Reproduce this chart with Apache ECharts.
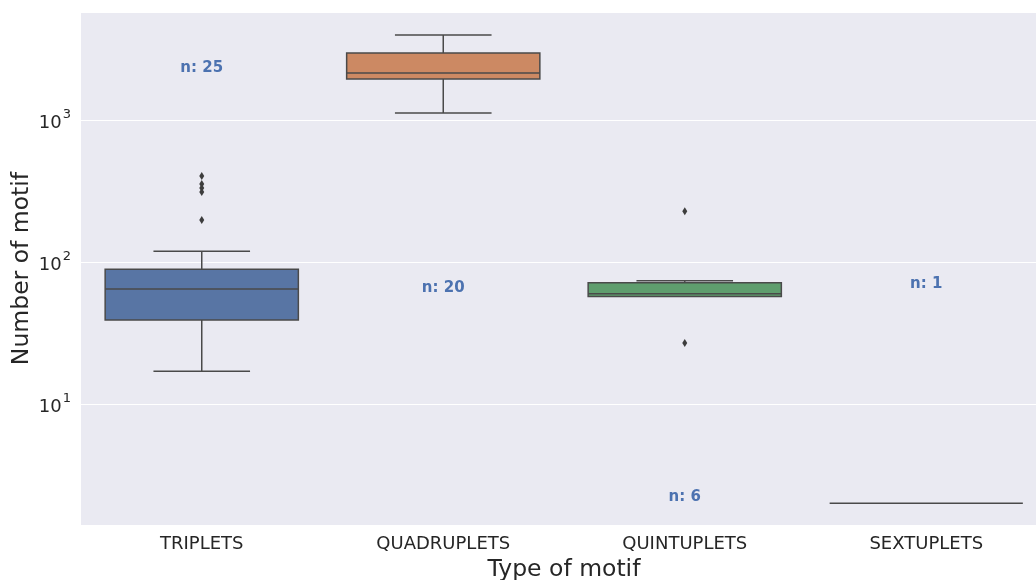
<!DOCTYPE html>
<html>
<head>
<meta charset="utf-8">
<script src="https://cdn.jsdelivr.net/npm/echarts@6/dist/echarts.min.js"></script>
<style>html,body{margin:0;padding:0;background:#fff}#c{width:1036px;height:580px}</style>
</head>
<body>
<div id="c"></div>
<script>
// ---- data ----
const categories = ['TRIPLETS', 'QUADRUPLETS', 'QUINTUPLETS', 'SEXTUPLETS'];
// [lower whisker, Q1, median, Q3, upper whisker]
const tripletsBox = [17, 39, 64.5, 89, 119];
const quadrupletsBox = [1120, 1945, 2143, 2965, 3975];
const quintupletsBox = [57.1, 57.1, 59.8, 71.4, 73.7];
const sextupletsBox = [2, 2, 2, 2, 2];
const tripletsOutliers = [403, 354, 332, 311, 198];
const quintupletsOutliers = [228, 26.9];
const countLabels = ['n: 25', 'n: 20', 'n: 6', 'n: 1'];
const countLabelValues = [2323, 65.6, 2.21, 70.0];
const yMin = 1.406, yMax = 5763;

const boxColors = ['#5875a4', '#cc8963', '#5f9e6e', '#b55d60'];
const lineColor = '#4a4a4a';

const boxes = [tripletsBox, quadrupletsBox, quintupletsBox, sextupletsBox];
const boxData = boxes.map((b, i) => [i].concat(b));
const outlierData = tripletsOutliers.map(v => [0, v]).concat(quintupletsOutliers.map(v => [2, v]));
const labelData = countLabels.map((t, i) => ({ value: [i, countLabelValues[i]], name: t }));

const chart = echarts.init(document.getElementById('c'), null, { renderer: 'canvas' });
const fontFamily = '"DejaVu Sans", sans-serif';

chart.setOption({
  animation: false,
  grid: { left: 81, right: -11, top: 12, bottom: 55, show: true, backgroundColor: '#eaeaf2', borderWidth: 0,
          containLabel: false, outerBoundsMode: 'none' },
  xAxis: {
    type: 'category',
    data: categories,
    axisLine: { show: false },
    axisTick: { show: false },
    splitLine: { show: false },
    axisLabel: { color: '#262626', fontSize: 18, fontFamily: fontFamily, margin: 10 },
    name: 'Type of motif',
    nameLocation: 'middle',
    nameGap: 33,
    nameMoveOverlap: false,
    nameTextStyle: { color: '#262626', fontSize: 23.5, fontFamily: fontFamily }
  },
  yAxis: {
    type: 'log',
    logBase: 10,
    min: yMin,
    max: yMax,
    axisLine: { show: false },
    axisTick: { show: false },
    splitLine: { show: true, lineStyle: { color: '#ffffff', width: 1.2 } },
    axisLabel: {
      margin: 10,
      color: '#262626',
      showMinLabel: false,
      showMaxLabel: false,
      formatter: function (v) {
        const l = Math.log10(v);
        const e = Math.round(l);
        if (Math.abs(l - e) > 1e-6) return '';
        return '{b|10}{s|' + e + '}';
      },
      rich: {
        b: { fontSize: 18, color: '#262626', fontFamily: fontFamily, lineHeight: 24, verticalAlign: 'bottom' },
        s: { fontSize: 13, color: '#262626', fontFamily: fontFamily, lineHeight: 24, verticalAlign: 'top', padding: [0, 0, 0, 1] }
      }
    },
    name: 'Number of motif',
    nameLocation: 'middle',
    nameGap: 47,
    nameMoveOverlap: false,
    nameTextStyle: { color: '#262626', fontSize: 23.5, fontFamily: fontFamily }
  },
  series: [
    {
      type: 'custom',
      data: boxData,
      encode: { x: 0, y: [1, 2, 3, 4, 5] },
      renderItem: function (params, api) {
        const x = api.value(0);
        const lo = api.coord([x, api.value(1)]);
        const q1 = api.coord([x, api.value(2)]);
        const md = api.coord([x, api.value(3)]);
        const q3 = api.coord([x, api.value(4)]);
        const hi = api.coord([x, api.value(5)]);
        const bw = api.size([1, 0])[0] * 0.8;
        const cx = lo[0];
        const ls = { stroke: lineColor, lineWidth: 1.5 };
        const children = [];
        if (Math.abs(lo[1] - q1[1]) > 0.5) {
          children.push({ type: 'line', shape: { x1: cx, y1: q1[1], x2: cx, y2: lo[1] }, style: ls });
          children.push({ type: 'line', shape: { x1: cx - bw / 4, y1: lo[1], x2: cx + bw / 4, y2: lo[1] }, style: ls });
        }
        if (Math.abs(hi[1] - q3[1]) > 0.5) {
          children.push({ type: 'line', shape: { x1: cx, y1: q3[1], x2: cx, y2: hi[1] }, style: ls });
          children.push({ type: 'line', shape: { x1: cx - bw / 4, y1: hi[1], x2: cx + bw / 4, y2: hi[1] }, style: ls });
        }
        if (Math.abs(q1[1] - q3[1]) > 0.5) {
          children.push({ type: 'rect', shape: { x: cx - bw / 2, y: q3[1], width: bw, height: q1[1] - q3[1] },
            style: { fill: boxColors[params.dataIndex], stroke: lineColor, lineWidth: 1.5 } });
        }
        children.push({ type: 'line', shape: { x1: cx - bw / 2, y1: md[1], x2: cx + bw / 2, y2: md[1] }, style: ls });
        return { type: 'group', children: children };
      },
      z: 2
    },
    {
      type: 'scatter',
      data: outlierData,
      symbol: 'diamond',
      symbolSize: [5, 8],
      itemStyle: { color: '#3d3d3d', opacity: 1 },
      z: 3
    },
    {
      type: 'scatter',
      data: labelData,
      symbolSize: 0,
      itemStyle: { color: '#4c72b0', opacity: 1 },
      label: {
        show: true,
        position: 'inside',
        formatter: '{b}',
        color: '#4c72b0',
        opacity: 1,
        textBorderWidth: 0,
        textBorderColor: 'transparent',
        fontWeight: 'bold',
        fontSize: 15,
        fontFamily: fontFamily
      },
      z: 4
    }
  ]
});
</script>
</body>
</html>
